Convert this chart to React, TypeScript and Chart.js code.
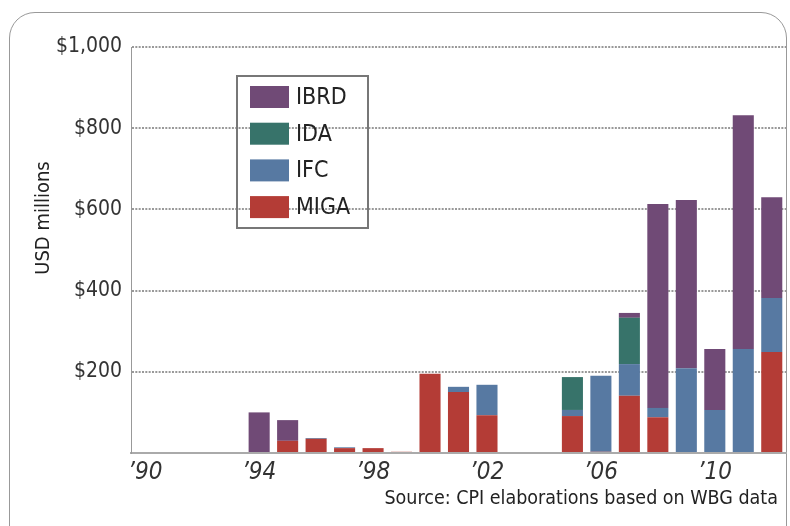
import React, { useEffect, useRef } from "react";
import { Chart, registerables } from "chart.js";

Chart.register(...registerables);

const years = ["’90","’91","’92","’93","’94","’95","’96","’97","’98","’99","’00","’01","’02","’03","’04","’05","’06","’07","’08","’09","’10","’11","’12"];
const MIGA = [0,0,0,0,0,30,35,12,12,3,195,150,93,0,0,91,3,141,88,0,0,0,249];
const IFC  = [0,0,0,0,0,0,2,2,0,0,0,13,75,0,0,15,187,78,23,209,106,256,133];
const IDA  = [0,0,0,0,0,0,0,0,0,0,0,0,0,0,0,81,0,114,0,0,0,0,0];
const IBRD = [0,0,0,0,100,51,0,0,0,0,0,0,0,0,0,0,0,12,502,414,150,576,248];
const yTicks = [0, 200, 400, 600, 800, 1000];
const seriesNames = ["MIGA", "IFC", "IDA", "IBRD"];
const seriesColors = ["#b43c36", "#5779a2", "#37736a", "#704a76"];
const yTitle = "USD millions";
const sourceText = "Source: CPI elaborations based on WBG data";

const FONT = "'Liberation Sans Narrow', 'DejaVu Sans Condensed', 'Noto Sans', sans-serif";

const overlayPlugin = {
  id: "overlay",
  afterDraw(chart: any) {
    const { ctx, chartArea } = chart;
    ctx.save();
    ctx.fillStyle = "#222";
    ctx.font = `20px ${FONT}`;
    ctx.textAlign = "center";
    ctx.textBaseline = "middle";
    ctx.translate(44, chartArea.top + 171);
    ctx.rotate(-Math.PI / 2);
    ctx.fillText(yTitle, 0, 0);
    ctx.restore();

    ctx.save();
    const lx = chartArea.left + 106;
    const ly = chartArea.top + 29;
    ctx.strokeStyle = "#777";
    ctx.lineWidth = 2;
    ctx.strokeRect(lx, ly, 131, 152);
    const ds = chart.data.datasets;
    ctx.font = `23px ${FONT}`;
    ctx.textAlign = "left";
    ctx.textBaseline = "middle";
    for (let i = 0; i < ds.length; i++) {
      const d = ds[ds.length - 1 - i];
      const cy = ly + 21 + i * 36.7;
      ctx.fillStyle = d.backgroundColor;
      ctx.fillRect(lx + 13, cy - 11, 39, 22);
      ctx.fillStyle = "#222";
      ctx.fillText(d.label, lx + 59, cy + 1);
    }
    ctx.restore();
  },
};

export default function App() {
  const ref = useRef<HTMLCanvasElement>(null);
  useEffect(() => {
    const data = [MIGA, IFC, IDA, IBRD];
    const chart = new Chart(ref.current!, {
      type: "bar",
      data: {
        labels: years,
        datasets: data.map((d, i) => ({
          label: seriesNames[i],
          data: d,
          backgroundColor: seriesColors[i],
          borderWidth: 0,
          barPercentage: 0.74,
          categoryPercentage: 1,
        })),
      },
      options: {
        responsive: false,
        animation: false,
        layout: { padding: { left: 0, top: 47, right: 4, bottom: 0 } },
        plugins: { legend: { display: false }, tooltip: { enabled: false } },
        scales: {
          x: {
            stacked: true,
            grid: { display: false },
            border: { display: true, color: "#aaa", width: 2 },
            ticks: {
              autoSkip: false,
              maxRotation: 0,
              padding: -3,
              color: "#333",
              font: { family: FONT, size: 24, style: "italic" },
              callback: (_v: any, i: number) => (i % 4 === 0 ? years[i] : ""),
            },
            afterFit: (s: any) => { s.height = 73; },
          },
          y: {
            stacked: true,
            min: 0,
            max: 1000,
            afterBuildTicks: (s: any) => { s.ticks = yTicks.map((v) => ({ value: v })); },
            grid: {
              color: (c: any) => (c.tick && c.tick.value === 0 ? "rgba(0,0,0,0)" : "#999"),
              lineWidth: 2,
              drawTicks: false,
              tickLength: 0,
            },
            border: { display: true, color: "#999", width: 1, dash: [2, 1.33] },
            ticks: {
              padding: 9,
              color: "#333",
              font: { family: FONT, size: 21 },
              callback: (v: any) => (v === 0 ? "" : "$" + Number(v).toLocaleString("en-US")),
            },
            afterFit: (s: any) => { s.width = 131; },
          },
        },
      },
      plugins: [overlayPlugin],
    });
    return () => chart.destroy();
  }, []);

  return (
    <div style={{ position: "absolute", left: 0, top: 0, width: 790, height: 526, overflow: "hidden", background: "#fff" }}>
      <div style={{ position: "absolute", left: 9, top: 12, width: 778, height: 600, border: "1.5px solid #999", borderRadius: 26, boxSizing: "border-box" }} />
      <canvas ref={ref} width={790} height={526} style={{ position: "absolute", left: 0, top: 0, display: "block" }} />
      <div style={{ position: "absolute", right: 12, top: 486, fontFamily: FONT, fontSize: 19.5, color: "#222", whiteSpace: "nowrap" }}>{sourceText}</div>
    </div>
  );
}
